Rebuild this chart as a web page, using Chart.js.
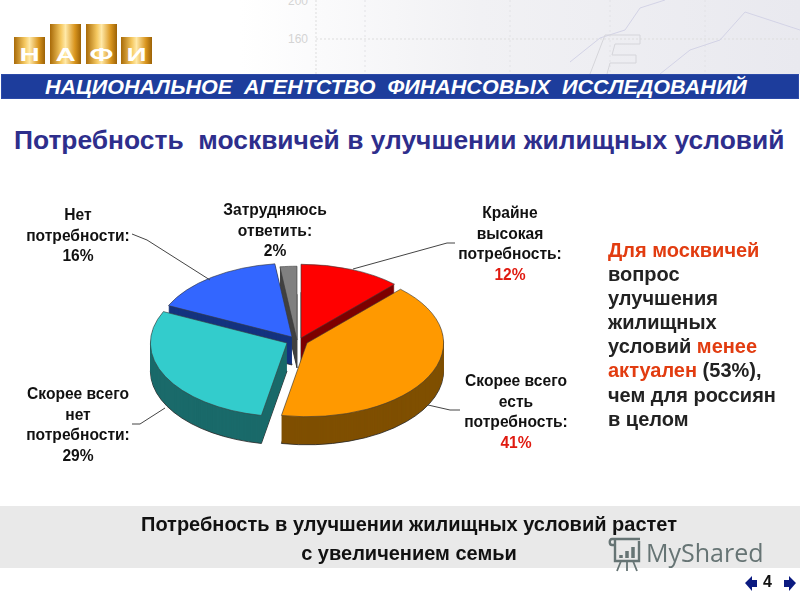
<!DOCTYPE html>
<html lang="ru"><head><meta charset="utf-8">
<script src="https://cdn.jsdelivr.net/npm/chart.js@4"></script>
<style>
html,body{margin:0;padding:0;background:#fff;overflow:hidden}
#wrap{position:relative;width:800px;height:600px;font-family:"Liberation Sans",Arial,sans-serif;overflow:hidden}
#wrap>*{position:absolute}
#bg{left:0;top:0;width:800px;height:74px;background:linear-gradient(90deg,#fff 0,#fff 30%,#f1f1f4 60%,#e9e9ef 100%)}
#bgsvg{left:0;top:0}
canvas{left:0;top:0}
.col{background:linear-gradient(90deg,#a86a08 0,#f5c860 35%,#ffe9a8 50%,#d9951e 80%,#9c6206 100%);bottom:auto}
.let{color:#fff;font-weight:bold;font-size:18px;text-align:center;top:46px;width:31px;transform:scaleX(1.55);line-height:18px}
#band{left:1px;top:74px;width:798px;height:25px;background:#1d3d9c;box-shadow:inset 0 0 0 1px #2c4aa8}
#bandt{left:45px;top:75px;color:#fff;font:italic bold 19.5px "Liberation Sans";white-space:nowrap;line-height:24px;transform-origin:0 50%;transform:scaleX(1.104)}
#title{left:14px;top:124px;color:#2e2e8c;font:bold 26.4px/32px "Liberation Sans";white-space:pre}
.lab{font-weight:bold;font-size:15.6px;line-height:20.5px;text-align:center;color:#111;white-space:nowrap;transform:translateX(-50%)}
.red{color:#e01a10}
#side{left:608px;top:238px;font-weight:bold;font-size:20px;line-height:24.1px;color:#222;white-space:nowrap}
#side .o{color:#e23c10}
#strip{left:0;top:506px;width:800px;height:62px;background:#e9e9e9}
.st{left:9px;width:800px;text-align:center;font:bold 20px/24px "Liberation Sans";color:#111}
#ms{left:646px;top:533px;font:25px/38px "Open Sans";color:#667474;white-space:nowrap}
#pg{left:763px;top:572px;font:bold 16px/20px "Liberation Sans";color:#111}
</style></head><body>
<div id="wrap">
<div id="bg"></div>
<svg id="bgsvg" width="800" height="74" fill="none">
<text x="288" y="43" font-family="Liberation Sans" font-size="12" fill="#d4d4d4">160</text>
<text x="288" y="5" font-family="Liberation Sans" font-size="12" fill="#d4d4d4">200</text>
<path d="M316 0V74M316 39H800" stroke="#ddd" stroke-dasharray="2 2"/>
<path d="M365 0V74M510 0V74M610 0V74M705 0V74" stroke="#e2e2e6" stroke-dasharray="2 3"/>
<path d="M570 62L600 38L625 30L640 8L665 0M660 74L690 50L720 40L745 12L800 30" stroke="#d3d3e6"/>
<path d="M590 74L605 35H640V44H615L612 55H636V63H610L607 74" stroke="#d5d5da"/>
</svg>
<div class="col" style="left:14px;top:37px;width:31px;height:27px"></div>
<div class="col" style="left:50px;top:24px;width:31px;height:40px"></div>
<div class="col" style="left:86px;top:24px;width:31px;height:40px"></div>
<div class="col" style="left:121px;top:37px;width:31px;height:27px"></div>
<div class="let" style="left:14px">Н</div><div class="let" style="left:50px">А</div>
<div class="let" style="left:86px">Ф</div><div class="let" style="left:121px">И</div>
<div id="band"></div>
<div id="bandt">НАЦИОНАЛЬНОЕ&nbsp; АГЕНТСТВО&nbsp; ФИНАНСОВЫХ&nbsp; ИССЛЕДОВАНИЙ</div>
<div id="title">Потребность  москвичей в улучшении жилищных условий</div>
<div id="strip"></div>
<canvas id="c" width="800" height="600" style="width:800px;height:600px"></canvas>
<svg style="left:0;top:0" width="800" height="600" fill="none" stroke="#444" stroke-width="1">
<path d="M353 269L447 243H455"/><path d="M210 280L147 240L132 234"/>
<path d="M165 408L140 424H132"/><path d="M428 405L450 410H460"/>
</svg>
<div class="lab" style="left:78px;top:205px">Нет<br>потребности:<br>16%</div>
<div class="lab" style="left:275px;top:200px">Затрудняюсь<br>ответить:<br>2%</div>
<div class="lab" style="left:510px;top:203px">Крайне<br>высокая<br>потребность:<br><span class="red">12%</span></div>
<div class="lab" style="left:516px;top:371px">Скорее всего<br>есть<br>потребность:<br><span class="red">41%</span></div>
<div class="lab" style="left:78px;top:384px">Скорее всего<br>нет<br>потребности:<br>29%</div>
<div id="side"><span class="o">Для москвичей</span><br>вопрос<br>улучшения<br>жилищных<br>условий <span class="o">менее</span><br><span class="o">актуален</span> (53%),<br>чем для россиян<br>в целом</div>
<div class="st" style="top:512px">Потребность в улучшении жилищных условий растет</div>
<div class="st" style="top:541px">с увеличением семьи</div>
<svg style="left:608px;top:536px" width="36" height="36" fill="none" stroke="#667474" stroke-width="2.4">
<path d="M4 3H32M7 3V25H31V5M4 3C1 3 1 9 4 9H7"/><path d="M13 22V19M19 22V15M25 22V11" stroke-width="3.5"/><path d="M13 25L9 35M19 25V35M25 25L29 35" stroke-width="1.8"/></svg>
<div id="ms">MyShared</div>
<div id="pg">4</div>
<svg style="left:743px;top:575px" width="55" height="18" fill="#0b1a80"><path d="M2 8L9 1V5H14V12H9V16Z"/><path d="M53 8L46 1V5H41V12H46V16Z"/></svg>
</div>
<script>
const categories = ["Крайне высокая потребность","Скорее всего есть потребность","Скорее всего нет потребности","Нет потребности","Затрудняюсь ответить"];
const shares = [12,41,29,16,2];
const topColors = ["#ff0000","#ff9900","#33cccc","#3366ff","#808080"];
const wallColors = ["#7d0000","#7f4f00","#1a6a6a","#14337f","#404040"];
const explodeX = [3,9,-11,-6,-1];
const explodeY = [-2,3,3,-3,0];
const drawOrder = [0,4,3,2,1];
const squash = 0.54, depth = 28;

const pie3d = {
  id:'pie3d',
  beforeDatasetsDraw(chart){
    const ctx = chart.ctx, arcs = chart.getDatasetMeta(0).data;
    drawOrder.forEach(i=>{
      const el = arcs[i];
      const {x,y,startAngle,endAngle,outerRadius} = el.getProps(['x','y','startAngle','endAngle','outerRadius']);
      const place = d=>{
        ctx.translate(x+explodeX[i], y+explodeY[i]+d);
        ctx.scale(1,squash);
        ctx.translate(-x,-y);
      };
      const wedge = ()=>{
        ctx.beginPath(); ctx.moveTo(x,y);
        ctx.arc(x,y,outerRadius,startAngle,endAngle); ctx.closePath();
      };
      for(let d=depth;d>=1;d--){
        ctx.save(); place(d); wedge();
        ctx.fillStyle = wallColors[i]; ctx.fill();
        if(d===depth){ctx.restore(); ctx.save(); place(d); wedge(); ctx.restore(); ctx.strokeStyle='#222'; ctx.lineWidth=.8; ctx.stroke();}
        else ctx.restore();
      }
      ctx.save(); place(0); el.draw(ctx); ctx.restore();
    });
    return false;
  }
};
new Chart(document.getElementById('c'),{
  type:'pie',
  data:{labels:categories,datasets:[{data:shares,backgroundColor:topColors,borderColor:'#3a3a3a',borderWidth:.8}]},
  options:{responsive:false,animation:false,events:[],
    layout:{padding:{left:161,right:365,top:203,bottom:123}},
    plugins:{legend:{display:false},tooltip:{enabled:false},title:{display:false}}},
  plugins:[pie3d]
});
</script>
</body></html>
